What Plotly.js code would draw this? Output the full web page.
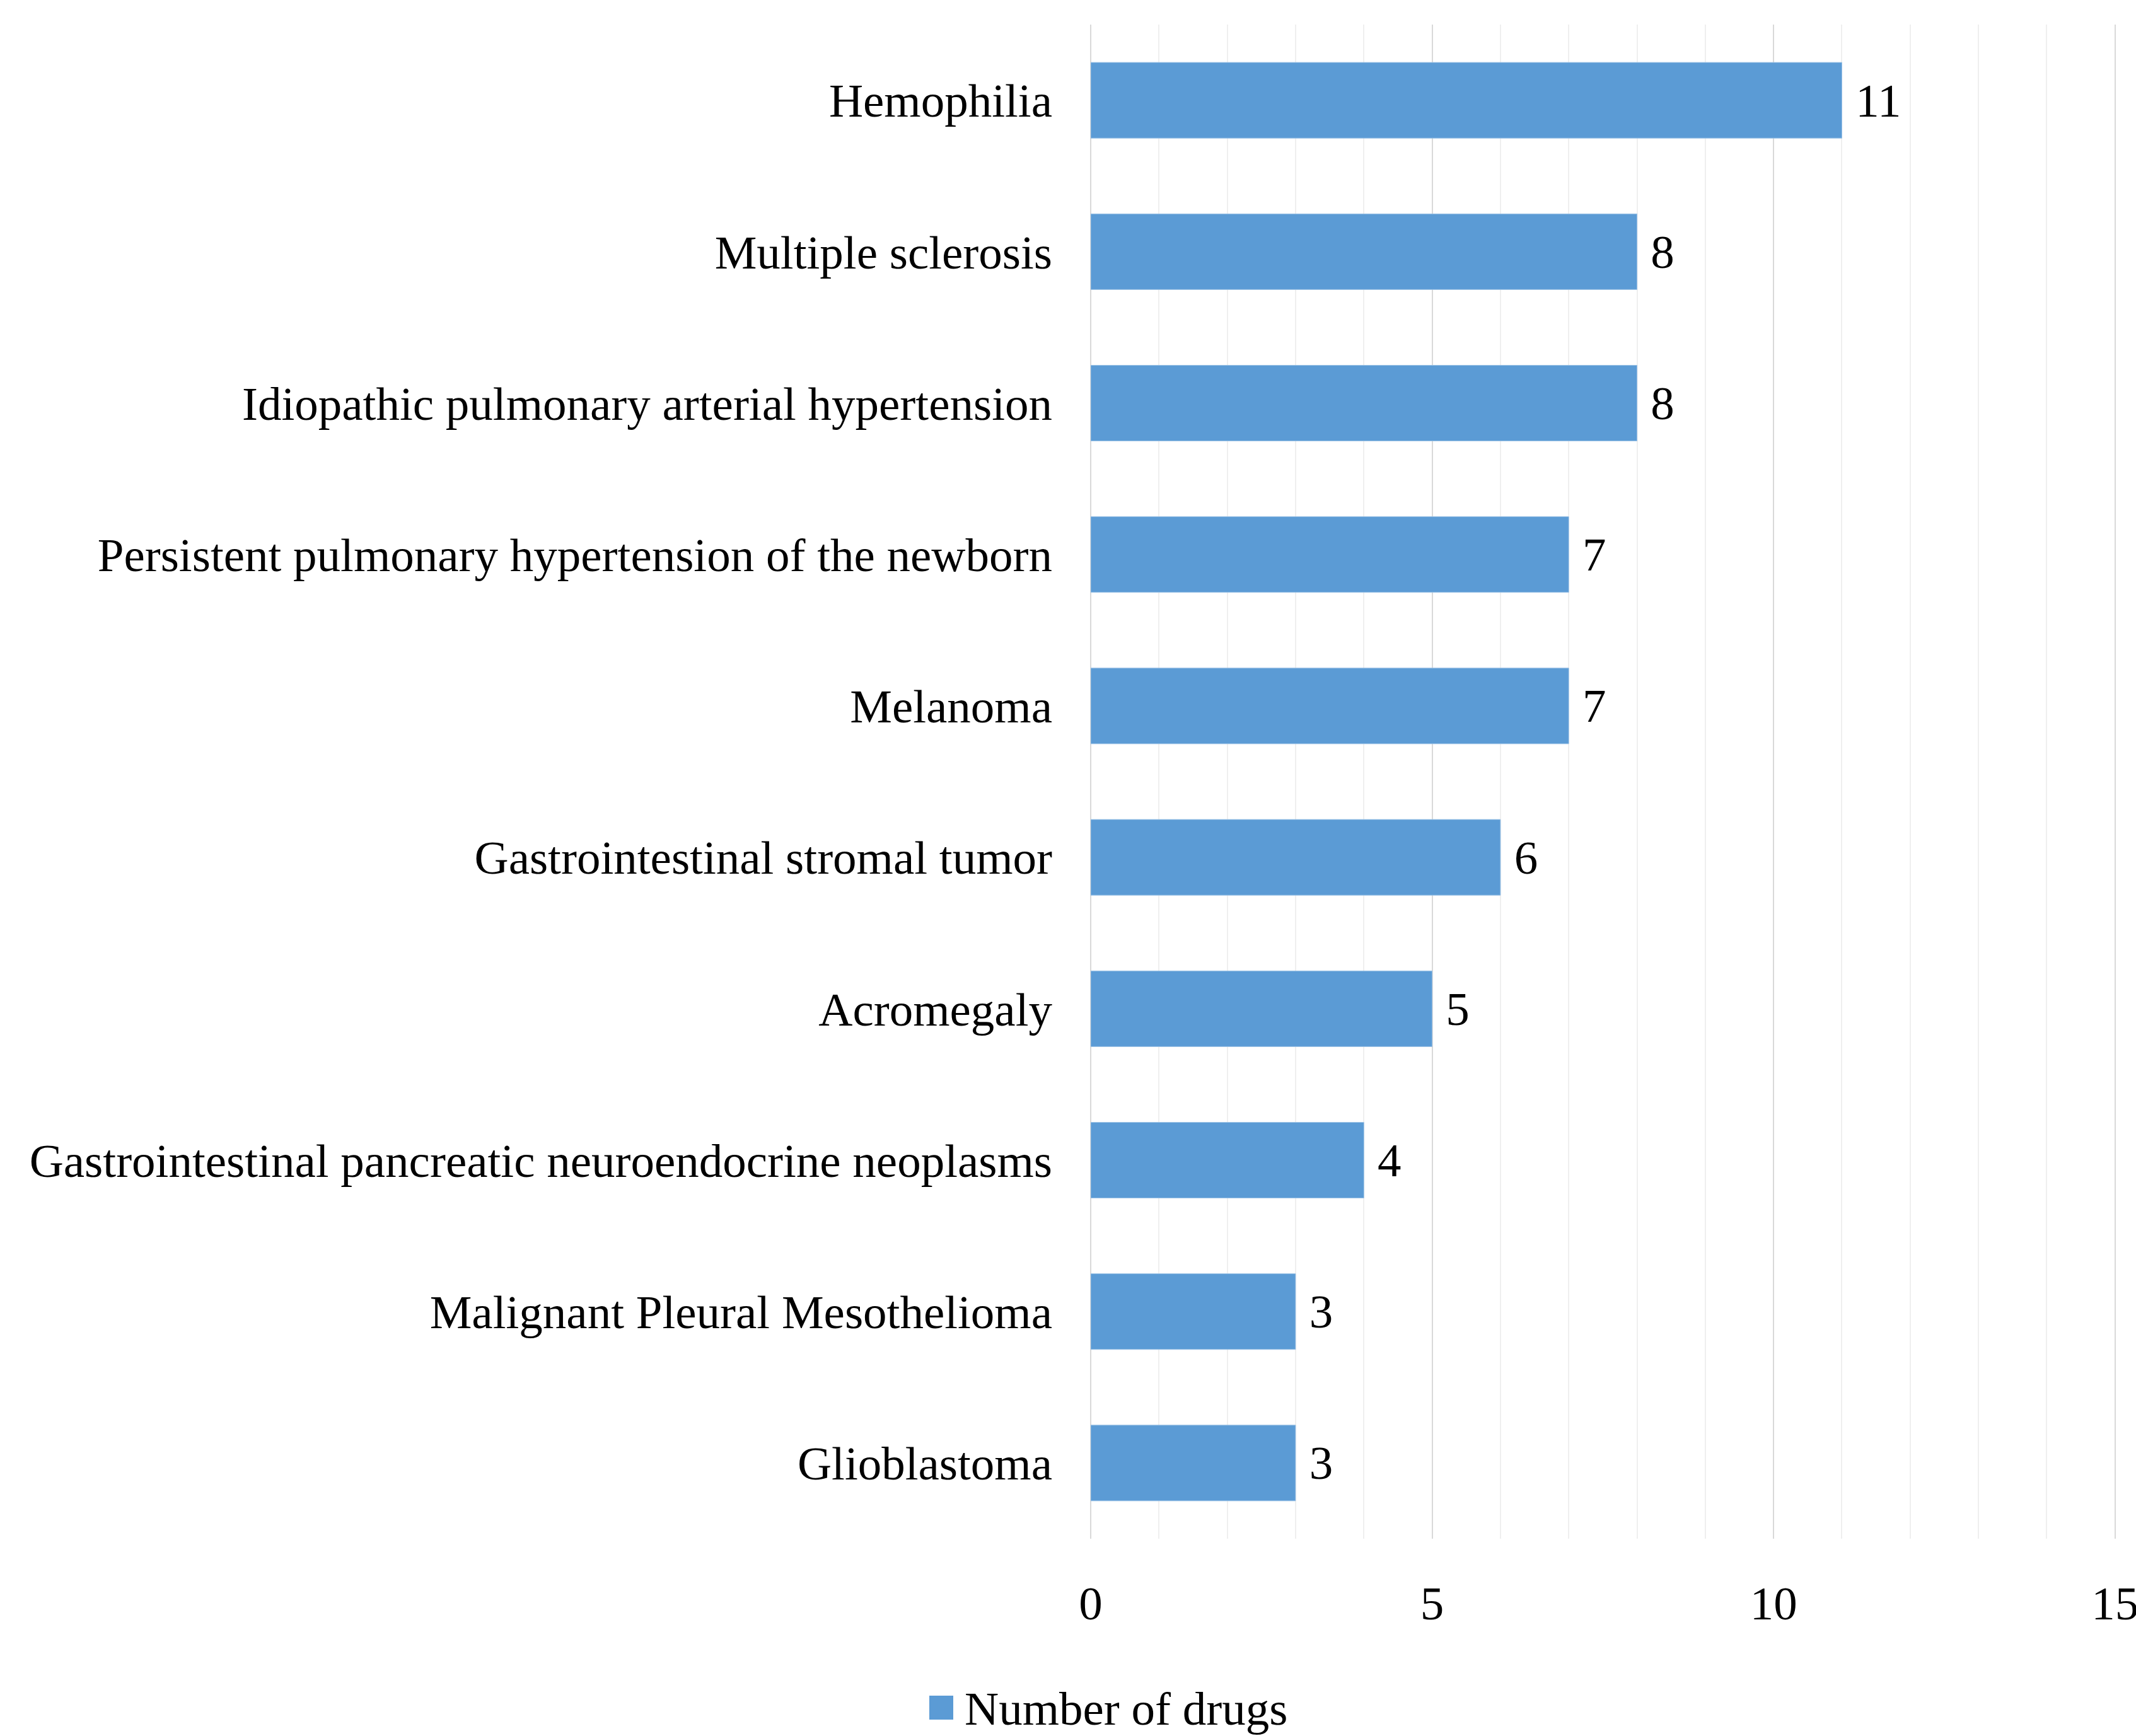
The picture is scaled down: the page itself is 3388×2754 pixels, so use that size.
<!DOCTYPE html>
<html>
<head>
<meta charset="utf-8">
<script src="https://cdn.plot.ly/plotly-3.0.1.min.js"></script>
<style>html,body{margin:0;padding:0;background:#fff;}#chart{width:3388px;height:2754px;}</style>
</head>
<body>
<div id="chart"></div>
<script>
const categories = [
  "Hemophilia",
  "Multiple sclerosis",
  "Idiopathic pulmonary arterial hypertension",
  "Persistent pulmonary hypertension of the newborn",
  "Melanoma",
  "Gastrointestinal stromal tumor",
  "Acromegaly",
  "Gastrointestinal pancreatic neuroendocrine neoplasms",
  "Malignant Pleural Mesothelioma",
  "Glioblastoma"
];
const drugCounts = [11, 8, 8, 7, 7, 6, 5, 4, 3, 3];
const seriesName = "Number of drugs";
const xTicks = [0, 5, 10, 15];

const FONT = "Liberation Serif, Times New Roman, serif";
const barColor = "#5b9bd5";

const trace = {
  type: "bar",
  orientation: "h",
  y: categories,
  x: drugCounts,
  name: seriesName,
  marker: {color: barColor, line: {color: "#9dc3e6", width: 1}},
  text: drugCounts.map(v => String(v)),
  texttemplate: " %{text}",
  textposition: "outside",
  cliponaxis: false,
  textfont: {family: FONT, size: 75, color: "#000"},
  showlegend: false,
  hoverinfo: "x+y"
};

const layout = {
  width: 3388,
  height: 2754,
  margin: {l: 1730, r: 30, t: 39, b: 313},
  paper_bgcolor: "#fff",
  plot_bgcolor: "#fff",
  font: {family: FONT, size: 75, color: "#000"},
  bargap: 0.5,
  showlegend: false,
  xaxis: {
    range: [0, 15.03],
    tickvals: xTicks,
    ticktext: xTicks.map(String),
    ticklabeloverflow: "allow",
    showgrid: true,
    gridcolor: "#d9d9d9",
    gridwidth: 2,
    zeroline: true,
    zerolinecolor: "#d9d9d9",
    zerolinewidth: 2,
    showline: false,
    ticks: "",
    ticklabelstandoff: 52,
    tickfont: {family: FONT, size: 75, color: "#000"},
    minor: {dtick: 1, showgrid: true, gridcolor: "#efefef", gridwidth: 2, ticks: ""}
  },
  yaxis: {
    type: "category",
    autorange: "reversed",
    showgrid: false,
    zeroline: false,
    showline: false,
    ticks: "",
    ticklabelstandoff: 60,
    tickfont: {family: FONT, size: 75, color: "#000"}
  },
  shapes: [{
    type: "rect",
    xref: "paper", yref: "paper",
    x0: (1474 - 1730) / 1628, x1: (1512 - 1730) / 1628,
    y0: -(2728 - 2441) / 2402, y1: -(2690 - 2441) / 2402,
    fillcolor: barColor,
    line: {width: 0}
  }],
  annotations: [{
    xref: "paper", yref: "paper",
    x: (1528 - 1730) / 1628,
    y: -(2710 - 2441) / 2402,
    xanchor: "left", yanchor: "middle",
    text: seriesName,
    showarrow: false,
    font: {family: FONT, size: 75, color: "#000"}
  }]
};

Plotly.newPlot("chart", [trace], layout, {displayModeBar: false, staticPlot: true});
</script>
</body>
</html>
